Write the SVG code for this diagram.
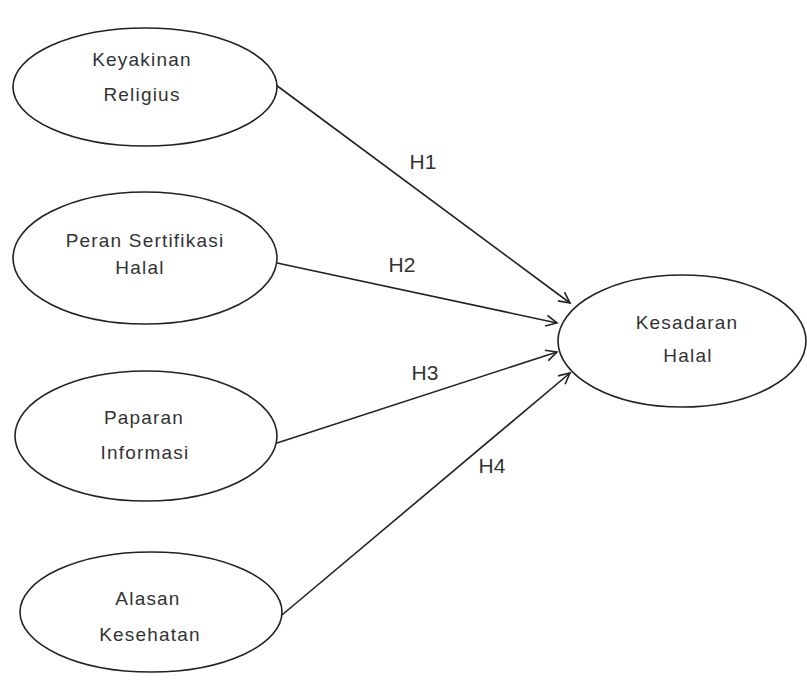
<svg xmlns="http://www.w3.org/2000/svg" width="807" height="683" viewBox="0 0 807 683">
<style>
.node ellipse{fill:#fff;stroke:#222;stroke-width:1.6}
.node text{font-family:"Liberation Sans",Arial,sans-serif;font-size:19px;fill:#333;text-anchor:middle;letter-spacing:1.2px}
.lbl{font-family:"Liberation Sans",Arial,sans-serif;font-size:21px;fill:#333;text-anchor:middle}
.edge{stroke:#222;stroke-width:1.6;fill:none;marker-end:url(#arr)}
</style>
<defs>
<marker id="arr" markerWidth="14" markerHeight="14" refX="12" refY="6" orient="auto" markerUnits="userSpaceOnUse">
<path d="M1,0.5 L12,6 L1,11.5" fill="none" stroke="#222" stroke-width="1.6"/>
</marker>
</defs>
<rect width="807" height="683" fill="#fff"/>
<g id="connectors">
<line class="edge" x1="276" y1="85" x2="570" y2="303"/>
<line class="edge" x1="277" y1="263" x2="557" y2="323"/>
<line class="edge" x1="277" y1="443" x2="557" y2="352"/>
<line class="edge" x1="282" y1="615" x2="570" y2="373"/>
<text class="lbl" x="423" y="169">H1</text>
<text class="lbl" x="402" y="272">H2</text>
<text class="lbl" x="425" y="380">H3</text>
<text class="lbl" x="492" y="473">H4</text>
</g>
<g id="keyakinan" class="node">
<ellipse cx="145" cy="87" rx="132" ry="59"/>
<text x="142" y="66">Keyakinan</text>
<text x="142" y="101">Religius</text>
</g>
<g id="peran" class="node">
<ellipse cx="145" cy="258" rx="132" ry="66"/>
<text x="145" y="247">Peran Sertifikasi</text>
<text x="140" y="274">Halal</text>
</g>
<g id="paparan" class="node">
<ellipse cx="146" cy="436" rx="131" ry="65"/>
<text x="144" y="424">Paparan</text>
<text x="145" y="459">Informasi</text>
</g>
<g id="alasan" class="node">
<ellipse cx="151" cy="612" rx="131" ry="60"/>
<text x="148" y="605">Alasan</text>
<text x="150" y="641">Kesehatan</text>
</g>
<g id="kesadaran" class="node">
<ellipse cx="682" cy="341" rx="124" ry="66"/>
<text x="687" y="329">Kesadaran</text>
<text x="688" y="362">Halal</text>
</g>
</svg>
